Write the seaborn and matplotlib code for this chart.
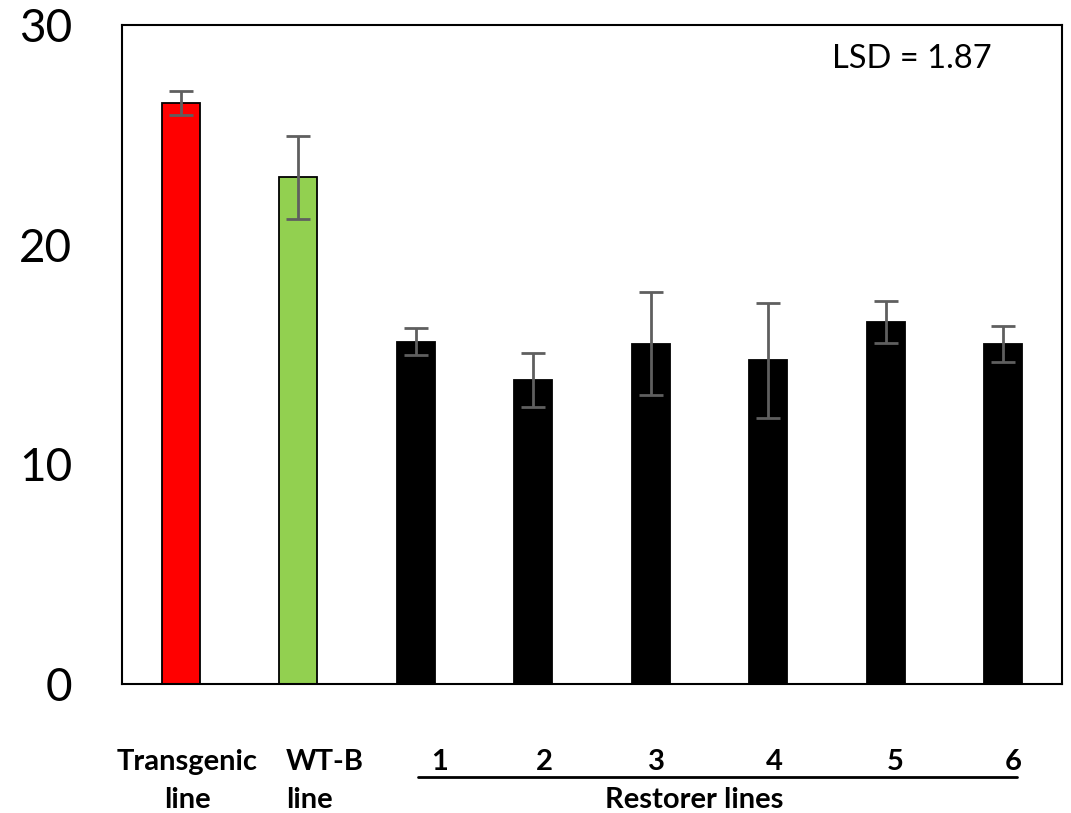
import matplotlib
matplotlib.use("Agg")
import matplotlib.pyplot as plt
import matplotlib.transforms as mtransforms
from matplotlib.lines import Line2D
import seaborn as sns
import pandas as pd

# ---- data ----
categories = ["Transgenic", "WT-B", "R1", "R2", "R3", "R4", "R5", "R6"]
values = [26.46, 23.06, 15.58, 13.84, 15.50, 14.73, 16.48, 15.48]
errors = [0.54, 1.90, 0.62, 1.23, 2.34, 2.60, 0.95, 0.82]
bar_colors = ["#FF0000", "#92D050", "#000000", "#000000", "#000000", "#000000", "#000000", "#000000"]
restorer_labels = ["1", "2", "3", "4", "5", "6"]
yticks = [0, 10, 20, 30]
lsd_text = "LSD = 1.87"

sns.set_theme(style="white")
plt.rcParams["font.family"] = ["Lato", "DejaVu Sans"]
plt.rcParams["text.color"] = "black"
plt.rcParams["ytick.color"] = "black"
plt.rcParams["ytick.labelcolor"] = "black"

W, H = 1071, 813
fig = plt.figure(figsize=(W / 100, H / 100), dpi=100)
ax = fig.add_axes([122 / W, 1 - 684 / H, (1062 - 122) / W, (684 - 25) / H])

df = pd.DataFrame({"cat": categories, "val": values})
sns.barplot(data=df, x="cat", y="val", hue="cat", palette=bar_colors, legend=False,
            width=0.32, edgecolor="black", linewidth=1.3, ax=ax, errorbar=None,
            saturation=1)

xs = list(range(len(categories)))
ax.errorbar(xs, values, yerr=errors, fmt="none", ecolor="#5f5f5f",
            elinewidth=2, capsize=8.5, capthick=2, zorder=5)

ax.set_xlim(-0.5, len(categories) - 0.5)
ax.set_ylim(0, 30)
ax.set_yticks(yticks)
ax.set_yticklabels([str(t) for t in yticks], fontsize=33, color="black")
ax.tick_params(axis="y", length=0, pad=36)
ax.set_xticks([])
ax.set_xlabel("")
ax.set_ylabel("")
for s in ax.spines.values():
    s.set_visible(True)
    s.set_color("black")
    s.set_linewidth(1.5)

ax.text(5.543, 28.04, lsd_text, fontsize=23.5, va="baseline", ha="left", color="black")

trans = mtransforms.blended_transform_factory(ax.transData, fig.transFigure)

def fy(px):
    return 1 - px / H

lab_kw = dict(fontsize=21, fontweight="bold", va="baseline", transform=trans, color="black")
ax.text(0.053, fy(770), "Transgenic", ha="center", **lab_kw)
ax.text(0.053, fy(808), "line", ha="center", **lab_kw)
ax.text(0.896, fy(770), "WT-B", ha="left", **lab_kw)
ax.text(0.896, fy(808), "line", ha="left", **lab_kw)

num_x = [2.206, 3.091, 4.045, 5.049, 6.079, 7.083]
for x, lab in zip(num_x, restorer_labels):
    ax.text(x, fy(770), lab, ha="center", **lab_kw)

ax.add_line(Line2D([2.019, 7.117], [fy(777), fy(777)], transform=trans,
                   color="black", linewidth=2, clip_on=False))
ax.text(4.368, fy(808), "Restorer lines", ha="center", **lab_kw)

fig.savefig("out.png", dpi=100)
